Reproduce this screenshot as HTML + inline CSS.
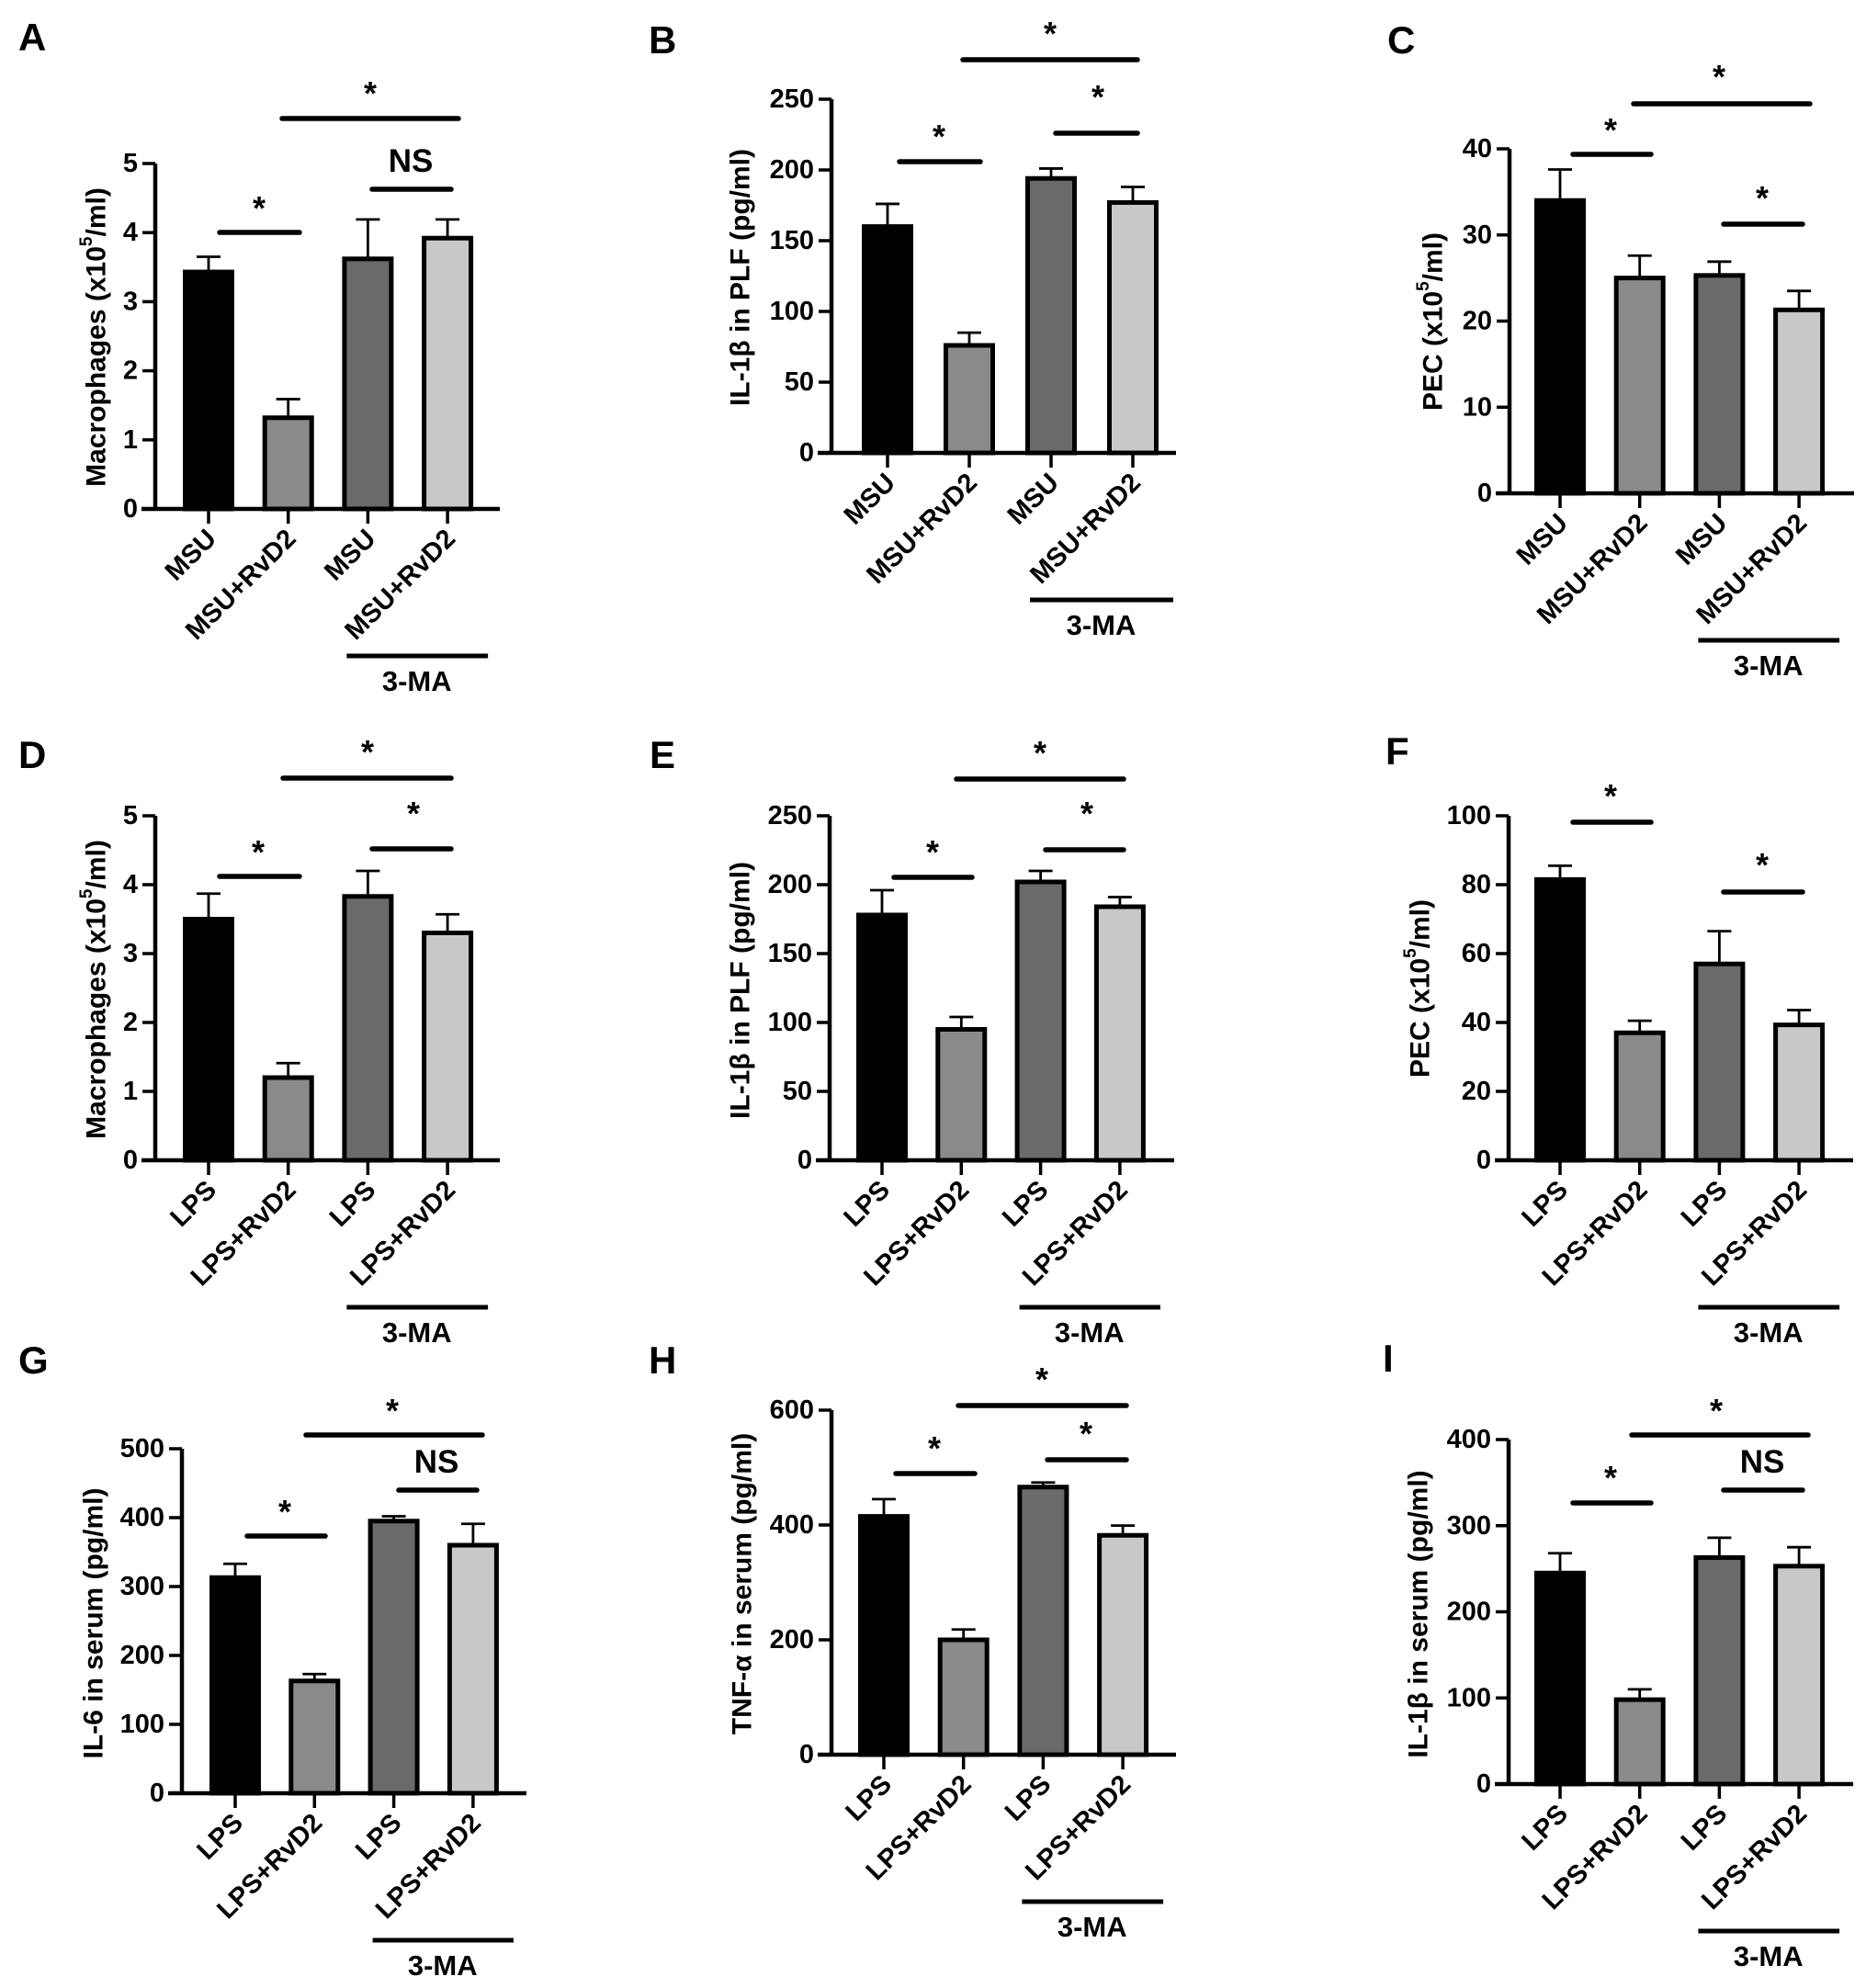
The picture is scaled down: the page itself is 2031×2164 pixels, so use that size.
<!DOCTYPE html>
<html><head><meta charset="utf-8"><title>Bar chart panels</title>
<style>
html,body{margin:0;padding:0;background:#fff;}
svg{display:block;font-family:"Liberation Sans",Arial,sans-serif;font-weight:bold;}
</style></head>
<body>
<svg id="fig" xmlns="http://www.w3.org/2000/svg" width="2031" height="2164" viewBox="0 0 2031 2164"></svg>
<script>
// ---- data ----
const catsMSU = ["MSU","MSU+RvD2","MSU","MSU+RvD2"];
const catsLPS = ["LPS","LPS+RvD2","LPS","LPS+RvD2"];
const fills = ["#000000","#8a8a8a","#6a6a6a","#c8c8c8"];

const valuesA = [3.43, 1.32, 3.62, 3.92];
const errorsA = [0.22, 0.27, 0.57, 0.27];
const ticksA = [0,1,2,3,4,5];

const valuesB = [160, 76, 194, 177];
const errorsB = [16, 9, 7, 11];
const ticksB = [0,50,100,150,200,250];

const valuesC = [34.0, 25.0, 25.3, 21.3];
const errorsC = [3.6, 2.6, 1.6, 2.2];
const ticksC = [0,10,20,30,40];

const valuesD = [3.50, 1.20, 3.83, 3.30];
const errorsD = [0.37, 0.21, 0.37, 0.27];
const ticksD = [0,1,2,3,4,5];

const valuesE = [178, 95, 202, 184];
const errorsE = [18, 9, 8, 7];
const ticksE = [0,50,100,150,200,250];

const valuesF = [81.5, 37.0, 57.0, 39.3];
const errorsF = [4.0, 3.5, 9.5, 4.3];
const ticksF = [0,20,40,60,80,100];

const valuesG = [313, 163, 395, 360];
const errorsG = [20, 10, 7, 31];
const ticksG = [0,100,200,300,400,500];

const valuesH = [415, 200, 466, 382];
const errorsH = [30, 18, 8, 17];
const ticksH = [0,200,400,600];

const valuesI = [245, 98, 263, 253];
const errorsI = [23, 12, 23, 22];
const ticksI = [0,100,200,300,400];

// ---- layout (pixels, not data) ----
const panels = [
 {id:"a",letter:"A",lx:20,ly:55,x0:169,y0:554,yTop:178,c0:227,dc:86.7,cats:catsMSU,vals:valuesA,errs:errorsA,ticks:ticksA,
  title:"Macrophages (x10<sup>5</sup>/ml)",tx:105,ty:367,
  sig:[[307,499,129,"*",403,93],[405,491,206,"NS",447,187],[239,326,253,"*",282,218]]},
 {id:"b",letter:"B",lx:706,ly:58,x0:905,y0:493,yTop:108,c0:966,dc:89,cats:catsMSU,vals:valuesB,errs:errorsB,ticks:ticksB,
  title:"IL-1β in PLF (pg/ml)",tx:806,ty:302,
  sig:[[1048,1238,65,"*",1143,28],[1149,1238,145,"*",1195,97],[979,1067,176,"*",1022,140]]},
 {id:"c",letter:"C",lx:1510,ly:58,x0:1643,y0:537,yTop:162,c0:1698,dc:86.7,cats:catsMSU,vals:valuesC,errs:errorsC,ticks:ticksC,
  title:"PEC (x10<sup>5</sup>/ml)",tx:1560,ty:350,
  sig:[[1778,1970,113,"*",1871,75],[1712,1797,168,"*",1753,133],[1876,1962,244,"*",1918,207]]},
 {id:"d",letter:"D",lx:20,ly:836,x0:169,y0:1263,yTop:888,c0:227,dc:86.7,cats:catsLPS,vals:valuesD,errs:errorsD,ticks:ticksD,
  title:"Macrophages (x10<sup>5</sup>/ml)",tx:105,ty:1077,
  sig:[[308,491,847,"*",400,810],[405,491,924,"*",450,877],[239,326,954,"*",281,919]]},
 {id:"e",letter:"E",lx:707,ly:836,x0:903,y0:1263,yTop:888,c0:960,dc:86.3,cats:catsLPS,vals:valuesE,errs:errorsE,ticks:ticksE,
  title:"IL-1β in PLF (pg/ml)",tx:806,ty:1078,
  sig:[[1041,1223,848,"*",1132,811],[1138,1223,925,"*",1183,877],[973,1058,955,"*",1015,919]]},
 {id:"f",letter:"F",lx:1508,ly:832,x0:1642,y0:1263,yTop:888,c0:1698,dc:86.7,cats:catsLPS,vals:valuesF,errs:errorsF,ticks:ticksF,
  title:"PEC (x10<sup>5</sup>/ml)",tx:1546,ty:1076,
  sig:[[1712,1797,895,"*",1753,858],[1876,1962,971,"*",1918,933]]},
 {id:"g",letter:"G",lx:20,ly:1495,x0:198,y0:1952,yTop:1577,c0:256,dc:86.3,cats:catsLPS,vals:valuesG,errs:errorsG,ticks:ticksG,
  title:"IL-6 in serum (pg/ml)",tx:102,ty:1767,
  sig:[[333,525,1562,"*",427,1527],[434,519,1622,"NS",475,1603],[269,354,1672,"*",310,1637]]},
 {id:"h",letter:"H",lx:706,ly:1495,x0:905,y0:1910,yTop:1535,c0:962,dc:86.7,cats:catsLPS,vals:valuesH,errs:errorsH,ticks:ticksH,
  title:"TNF-α in serum (pg/ml)",tx:808,ty:1724,
  sig:[[1043,1226,1530,"*",1134,1493],[1140,1226,1589,"*",1182,1552],[975,1061,1604,"*",1017,1568]]},
 {id:"i",letter:"I",lx:1505,ly:1493,x0:1642,y0:1942,yTop:1567,c0:1698,dc:86.7,cats:catsLPS,vals:valuesI,errs:errorsI,ticks:ticksI,
  title:"IL-1β in serum (pg/ml)",tx:1544,ty:1757,
  sig:[[1776,1968,1562,"*",1868,1527],[1876,1962,1622,"NS",1918,1603],[1712,1797,1636,"*",1753,1600]]}
];

const NS = "http://www.w3.org/2000/svg";
const svg = document.getElementById("fig");
function mk(tag, attrs, parent){
  const e = document.createElementNS(NS, tag);
  for (const k in attrs) e.setAttribute(k, attrs[k]);
  (parent||svg).appendChild(e);
  return e;
}

panels.forEach(p => {
  const g = mk("g", {});
  
  
  const maxV = p.ticks[p.ticks.length-1];
  const yScale = v => p.y0 - (v / maxV) * (p.y0 - p.yTop);
  const xScale = i => p.c0 + i * p.dc;

  // panel letter
  const L = mk("text", {x:p.lx, y:p.ly, "font-size":42}, g);
  L.textContent = p.letter;
  
  

  // y axis title
  const T = mk("text", {x:0, y:0, "font-size":30, "text-anchor":"middle", "dominant-baseline":"central",
    transform:`translate(${p.tx},${p.ty}) rotate(-90)`}, g);
  T.innerHTML = p.title.replace("<sup>5</sup>", '<tspan baseline-shift="super" font-size="19">5</tspan>');
  
  

  // bars
  p.vals.forEach((v, i) => {
    const cx = xScale(i);
    const top = yScale(v);
    const r = mk("rect", {x:cx-25.5, y:top, width:51, height:p.y0-top, fill:fills[i], stroke:"#000", "stroke-width":5}, g);
    
    
    const eTop = yScale(v + p.errs[i]);
    const el = mk("path", {d:`M${cx},${top} V${eTop} M${cx-13},${eTop} H${cx+13}`, stroke:"#000", "stroke-width":2.8, fill:"none"}, g);
    
    
    // x tick
    const tk = mk("line", {x1:cx, x2:cx, y1:p.y0, y2:p.y0+16, stroke:"#000", "stroke-width":3.5}, g);
    
    
    const lb = mk("text", {x:0, y:0, "font-size":29, "text-anchor":"end",
      transform:`translate(${cx+10},${p.y0+34}) rotate(-45)`}, g);
    lb.textContent = p.cats[i];
    
    
  });

  // axes
  const ax = mk("path", {d:`M${p.x0},${p.yTop} V${p.y0} M${p.x0-15},${p.y0} H${p.x0+375}`, stroke:"#000", "stroke-width":4.5, fill:"none"}, g);
  
  

  p.ticks.forEach(t => {
    const y = yScale(t);
    const tl = mk("line", {x1:p.x0-14, x2:p.x0, y1:y, y2:y, stroke:"#000", "stroke-width":3.5}, g);
    
    
    const tt = mk("text", {x:p.x0-19, y:y, "font-size":29, "text-anchor":"end", "dominant-baseline":"central"}, g);
    tt.textContent = t;
    
    
  });

  // significance annotations
  p.sig.forEach(s => {
    const ln = mk("line", {x1:s[0], x2:s[1], y1:s[2], y2:s[2], stroke:"#000", "stroke-width":5.5, "stroke-linecap":"round"}, g);
    
    
    const isStar = s[3] === "*";
    const st = mk("text", {x:s[4], y: isStar ? s[5]+21 : s[5], "font-size": isStar ? 36 : 35, "text-anchor":"middle"}, g);
    st.textContent = s[3];
    
    
  });

  // 3-MA group bracket
  const c3 = xScale(2), c4 = xScale(3);
  const gl = mk("line", {x1:c3-23, x2:c4+44, y1:p.y0+160, y2:p.y0+160, stroke:"#000", "stroke-width":5}, g);
  
  
  const gt = mk("text", {x:(c3+c4)/2+10, y:p.y0+198, "font-size":31, "text-anchor":"middle"}, g);
  gt.textContent = "3-MA";
  
  
});
</script>
</body></html>
